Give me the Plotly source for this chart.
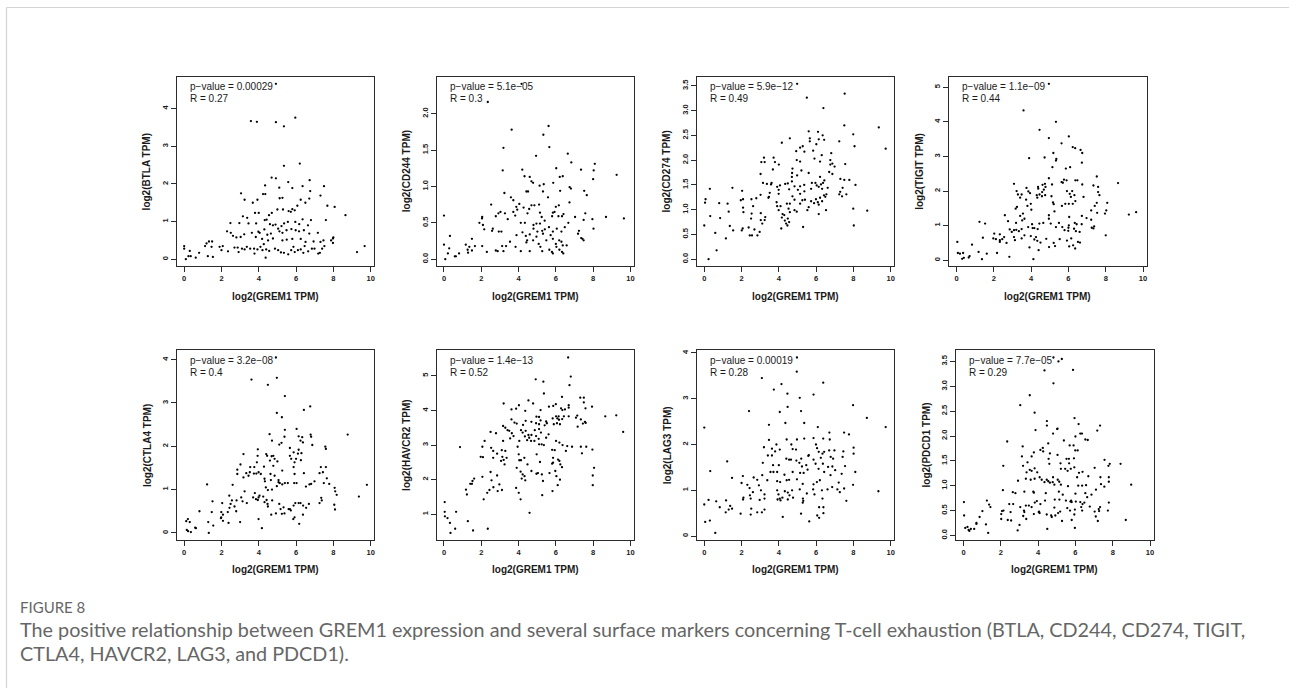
import plotly.graph_objects as go

W, H = 1290, 688

# ---------------- data ----------------
genes = ["BTLA", "CD244", "CD274", "TIGIT", "CTLA4", "HAVCR2", "LAG3", "PDCD1"]
p_values = ["0.00029", "5.1e\u221205", "5.9e\u221212", "1.1e\u221209",
            "3.2e\u221208", "1.4e\u221213", "0.00019", "7.7e\u221205"]
r_values = ["0.27", "0.3", "0.49", "0.44", "0.4", "0.52", "0.28", "0.29"]
x_ticks = [0, 2, 4, 6, 8, 10]
btla_yticks = ["0", "1", "2", "3", "4"]
cd244_yticks = ["0.0", "0.5", "1.0", "1.5", "2.0"]
cd274_yticks = ["0.0", "0.5", "1.0", "1.5", "2.0", "2.5", "3.0", "3.5"]
tigit_yticks = ["0", "1", "2", "3", "4", "5"]
ctla4_yticks = ["0", "1", "2", "3", "4"]
havcr2_yticks = ["1", "2", "3", "4", "5"]
lag3_yticks = ["0", "1", "2", "3", "4"]
pdcd1_yticks = ["0.0", "0.5", "1.0", "1.5", "2.0", "2.5", "3.0", "3.5"]

btla_points = [(4.92,4.66),(3.58,3.67),(3.9,3.65),(4.92,3.64),(5.96,3.76),(5.35,3.53),(5.35,2.48),(6.2,2.54),
(4.69,2.17),(4.92,2.15),(5.58,2.05),(6.73,2.1),(7.5,1.94),(4.34,1.96),(5.1,1.9),(6.35,1.94),(5.8,1.89),(3.05,1.75),
(4.23,1.73),(4.35,1.73),(6.76,1.81),(7.31,1.69),(3.24,1.58),(3.93,1.58),(3.68,1.5),(5.12,1.62),(5.27,1.63),(6.25,1.58),
(6.5,1.5),(6.71,1.61),(7.68,1.42),(8.07,1.39),(7.6,1.04),(8.65,1.17),(6.07,1.42),(5.93,1.3),(5.8,1.33),(5.72,1.26),
(5.6,1.28),(5.3,1.32),(5.0,1.32),(4.7,1.23),(4.55,1.17),(3.8,1.23),(4.0,1.23),(3.15,1.14),(3.38,1.1),(2.96,0.96),
(3.45,0.95),(3.86,0.95),(4.32,1.04),(4.42,1.05),(4.6,0.93),(4.76,0.9),(4.9,0.92),(5.04,0.81),(5.22,0.88),(5.36,0.95),
(5.56,0.99),(5.96,0.99),(6.17,0.93),(6.35,1.06),(6.64,0.9),(6.8,1.04),(2.48,0.96),(2.3,0.74),(2.5,0.7),(2.62,0.62),
(2.8,0.58),(3.03,0.59),(3.22,0.66),(3.63,0.7),(3.98,0.73),(4.05,0.7),(4.3,0.79),(4.46,0.65),(4.65,0.68),(5.11,0.74),
(5.27,0.7),(5.49,0.77),(5.75,0.8),(5.98,0.77),(6.16,0.74),(6.42,0.77),(6.71,0.68),(7.17,0.7),(3.84,0.59),(4.18,0.54),
(4.5,0.5),(4.76,0.55),(5.27,0.5),(5.5,0.52),(5.8,0.54),(6.25,0.54),(6.51,0.46),(6.94,0.47),(7.31,0.46),(7.47,0.5),
(7.88,0.5),(7.98,0.55),(7.98,0.43),(8.0,0.58),(1.47,0.33),(1.33,0.47),(1.5,0.47),(1.2,0.42),(1.12,0.35),(1.9,0.33),
(2.0,0.24),(2.07,0.35),(2.35,0.21),(2.7,0.31),(2.87,0.31),(2.92,0.19),(3.1,0.28),(3.24,0.26),(3.36,0.33),(3.54,0.28),
(3.75,0.28),(3.93,0.26),(3.77,0.15),(4.09,0.33),(4.27,0.4),(4.2,0.24),(4.4,0.26),(4.56,0.22),(4.37,0.04),(4.87,0.28),
(5.04,0.24),(5.19,0.18),(5.35,0.17),(5.58,0.13),(5.74,0.24),(5.86,0.33),(5.93,0.19),(6.1,0.24),(6.25,0.26),(6.39,0.17),
(6.46,0.35),(6.65,0.21),(6.85,0.28),(6.99,0.28),(7.19,0.15),(7.28,0.17),(7.4,0.28),(7.52,0.35),(9.27,0.19),(9.68,0.35),
(0.0,0.35),(0.0,0.28),(0.09,0.0),(0.3,0.22),(0.23,0.08),(0.35,0.08),(0.62,0.04),(0.8,0.17),(1.27,0.08),(1.54,0.06)]

cd244_points = [(2.35,2.16),(4.16,2.41),(3.63,1.78),(5.61,1.83),(5.33,1.71),(5.65,1.54),(3.19,1.53),(4.94,1.42),
(6.64,1.45),(6.83,1.33),(8.09,1.31),(7.35,1.23),(4.2,1.23),(3.15,1.22),(6.02,1.25),(8.03,1.22),(9.26,1.16),(4.32,1.14),
(4.6,1.13),(6.21,1.13),(6.37,1.14),(8.0,1.1),(4.69,1.07),(4.78,1.05),(5.13,1.01),(5.35,1.03),(5.86,1.05),(6.74,0.99),
(6.81,0.97),(4.42,0.93),(4.51,0.93),(3.24,0.91),(5.31,0.93),(6.23,0.94),(7.52,0.94),(7.66,0.88),(5.58,0.85),(3.59,0.85),
(3.72,0.81),(2.53,0.75),(4.04,0.76),(3.88,0.72),(3.93,0.68),(4.27,0.71),(4.57,0.69),(4.69,0.74),(4.85,0.74),(5.1,0.75),
(6.0,0.72),(6.16,0.74),(6.73,0.78),(3.03,0.65),(3.27,0.63),(3.42,0.55),(2.92,0.63),(2.78,0.59),(2.04,0.56),(2.05,0.58),
(3.72,0.65),(3.82,0.6),(4.48,0.63),(5.15,0.64),(5.24,0.58),(5.4,0.53),(5.8,0.59),(5.84,0.64),(5.93,0.65),(6.14,0.59),
(6.33,0.59),(6.41,0.62),(7.03,0.58),(7.49,0.54),(7.58,0.63),(7.96,0.55),(8.69,0.58),(9.65,0.56),(1.9,0.5),(2.09,0.47),
(2.16,0.41),(2.62,0.42),(2.58,0.39),(2.94,0.38),(3.08,0.38),(4.12,0.5),(4.34,0.5),(4.8,0.47),(4.96,0.49),(5.15,0.49),
(4.8,0.42),(5.01,0.38),(5.27,0.39),(5.41,0.41),(5.63,0.44),(5.84,0.38),(6.05,0.42),(6.3,0.38),(6.48,0.44),(6.67,0.5),
(7.19,0.35),(7.24,0.39),(7.43,0.28),(7.49,0.26),(7.36,0.29),(8.02,0.42),(3.89,0.33),(4.21,0.37),(4.39,0.32),(4.6,0.34),
(4.78,0.26),(4.46,0.26),(4.42,0.23),(4.96,0.31),(5.31,0.35),(5.49,0.26),(5.08,0.21),(5.17,0.17),(5.72,0.33),(5.84,0.28),
(6.0,0.21),(6.18,0.26),(6.3,0.24),(6.37,0.19),(6.58,0.19),(6.33,0.1),(6.4,0.08),(5.84,0.08),(5.79,0.1),(6.03,0.17),
(6.19,0.13),(5.65,0.13),(5.27,0.11),(4.6,0.11),(4.12,0.11),(3.84,0.17),(3.54,0.24),(3.33,0.18),(3.12,0.18),(3.19,0.11),
(2.88,0.11),(2.78,0.12),(2.3,0.1),(2.05,0.18),(1.66,0.18),(1.5,0.12),(1.29,0.09),(1.27,0.13),(1.17,0.2),(1.5,0.28),
(1.36,0.17),(0.81,0.08),(0.64,0.04),(0.58,0.04),(0.32,0.32),(0.28,0.15),(0.21,0.08),(0.07,0.0),(0.0,0.2),(0.0,0.6)]

cd274_points = [(4.98,3.54),(5.5,3.26),(7.53,3.34),(6.39,3.05),(7.51,2.7),(9.36,2.66),(5.6,2.58),(6.1,2.57),(6.35,2.5),
(7.99,2.52),(5.66,2.44),(4.59,2.44),(6.14,2.42),(6.43,2.41),(4.16,2.35),(5.66,2.38),(7.24,2.38),(8.06,2.28),(5.28,2.28),
(5.14,2.25),(6.01,2.32),(9.73,2.23),(5.84,2.19),(4.93,2.18),(5.37,2.17),(6.3,2.1),(6.81,2.14),(3.2,2.05),(3.72,2.05),
(3.06,1.96),(3.24,1.96),(3.79,1.96),(4.96,2.0),(5.14,1.97),(4.0,1.91),(5.91,2.03),(6.21,1.97),(6.76,2.0),(6.87,1.93),
(6.99,1.87),(6.76,1.91),(7.56,1.92),(3.68,1.81),(4.73,1.83),(4.71,1.74),(5.21,1.79),(5.6,1.74),(6.7,1.76),(6.87,1.72),
(6.21,1.66),(4.7,1.66),(4.98,1.69),(3.02,1.72),(3.15,1.54),(3.36,1.52),(3.58,1.51),(3.61,1.54),(3.91,1.46),(4.06,1.49),
(4.34,1.52),(4.48,1.53),(4.7,1.57),(4.84,1.47),(5.14,1.47),(5.36,1.5),(5.77,1.54),(5.96,1.54),(6.03,1.49),(6.26,1.51),
(6.37,1.54),(6.44,1.59),(6.14,1.46),(6.32,1.42),(6.62,1.44),(7.3,1.62),(7.51,1.6),(7.78,1.6),(7.42,1.44),(8.11,1.5),
(5.73,1.42),(5.37,1.37),(5.14,1.32),(5.02,1.4),(4.55,1.41),(3.99,1.4),(3.99,1.32),(3.51,1.34),(3.47,1.26),(3.44,1.24),
(3.02,1.3),(2.79,1.23),(2.53,1.21),(1.96,1.19),(2.08,1.21),(2.03,1.38),(1.51,1.44),(0.8,1.13),(1.25,1.12),(0.3,1.42),
(0.07,1.21),(0.04,1.14),(0.0,0.68),(0.32,0.87),(0.85,0.83),(0.59,0.53),(0.66,0.18),(0.23,0.0),(1.16,0.42),(1.37,0.67),
(1.55,0.58),(1.31,0.96),(2.08,1.04),(2.1,0.95),(2.01,0.58),(2.06,0.62),(2.51,0.82),(2.54,0.92),(2.62,1.07),(2.38,0.64),
(2.44,0.48),(2.56,0.48),(2.69,0.6),(2.85,0.48),(2.97,0.55),(3.03,0.79),(3.11,0.72),(3.24,0.79),(3.27,0.85),(3.03,0.93),
(3.88,1.15),(3.91,1.07),(3.99,0.99),(4.09,1.07),(4.16,0.84),(4.13,0.62),(4.2,0.91),(4.29,0.89),(4.32,0.78),(4.39,0.72),
(4.46,0.68),(4.48,0.82),(4.55,0.75),(4.59,0.95),(4.59,1.12),(4.43,1.12),(4.52,1.02),(4.73,1.27),(4.84,1.2),(4.84,0.99),
(4.96,0.96),(5.14,1.12),(5.26,1.19),(5.3,0.65),(5.4,1.2),(5.53,0.99),(5.6,1.05),(5.73,1.17),(5.89,1.13),(5.99,1.21),
(6.09,1.15),(6.14,1.1),(6.14,0.91),(6.21,1.24),(6.32,1.17),(6.42,1.29),(6.49,1.26),(6.55,1.31),(6.53,0.99),(7.24,1.31),
(7.29,1.36),(7.39,1.27),(7.62,1.31),(7.99,1.02),(8.02,0.68),(8.74,0.98)]

tigit_points = [(4.95,5.1),(3.59,4.33),(5.33,4.0),(4.45,3.77),(6.02,3.58),(4.95,3.53),(5.63,3.38),(6.23,3.27),
(6.36,3.24),(6.65,3.19),(6.74,3.1),(5.19,3.1),(5.35,2.93),(5.33,2.88),(3.89,2.95),(4.72,2.97),(6.72,2.82),(5.86,2.65),
(6.09,2.69),(5.14,2.69),(3.08,2.21),(3.75,2.09),(4.37,2.12),(4.38,2.07),(4.61,2.18),(4.74,2.21),(4.77,2.12),(4.95,2.37),
(5.12,2.19),(5.63,2.26),(5.76,2.33),(5.7,2.24),(5.9,2.31),(6.37,2.31),(6.48,2.31),(6.74,2.19),(7.52,2.42),(7.34,2.16),
(7.59,2.12),(8.66,2.23),(3.22,2.0),(3.29,1.9),(3.85,1.99),(3.94,1.94),(4.3,1.88),(4.45,1.9),(4.59,1.97),(4.68,2.04),
(4.33,1.81),(4.58,1.85),(4.75,1.88),(5.09,1.85),(5.92,2.0),(6.07,1.92),(6.2,2.0),(6.13,1.83),(6.32,1.88),(6.81,1.83),
(7.66,1.88),(7.59,1.97),(3.41,1.81),(3.49,1.9),(3.73,1.75),(3.8,1.57),(3.98,1.63),(5.17,1.67),(5.21,1.62),(5.65,1.57),
(5.83,1.63),(6.02,1.63),(6.23,1.63),(6.37,1.71),(7.52,1.66),(7.41,1.57),(8.08,1.66),(3.17,1.49),(3.24,1.54),(3.56,1.35),
(3.64,1.2),(4.01,1.46),(5.25,1.41),(8.03,1.44),(7.96,1.35),(7.54,1.37),(7.22,1.44),(3.41,1.28),(3.52,1.15),(4.95,1.3),
(4.95,1.2),(6.04,1.25),(6.72,1.28),(6.97,1.22),(7.22,1.17),(2.59,1.3),(2.76,1.13),(1.23,1.11),(1.53,1.06),(3.19,1.08),
(4.05,1.04),(4.44,1.06),(4.65,1.08),(5.05,1.06),(5.49,1.08),(6.02,1.01),(6.34,1.08),(6.44,1.04),(6.71,1.04),(7.38,0.98),
(7.25,0.94),(7.34,0.92),(5.33,0.96),(4.08,0.93),(4.17,0.93),(4.35,0.9),(3.84,0.96),(3.49,0.9),(3.2,0.88),(3.08,0.87),
(2.96,0.82),(3.34,0.84),(5.67,0.96),(6.0,0.94),(5.79,0.87),(5.99,0.85),(6.3,0.91),(6.4,0.84),(6.6,0.82),(2.85,0.89),
(2.32,0.75),(2.02,0.77),(1.97,0.63),(2.11,0.61),(2.32,0.58),(2.45,0.61),(2.55,0.67),(2.68,0.5),(3.08,0.67),(3.13,0.58),
(3.49,0.63),(3.64,0.72),(3.98,0.7),(4.17,0.6),(4.26,0.67),(4.33,0.56),(4.5,0.51),(4.81,0.62),(4.96,0.38),(5.21,0.5),
(5.28,0.41),(5.53,0.61),(5.92,0.57),(6.15,0.63),(6.25,0.43),(6.51,0.53),(6.36,0.34),(6.04,0.4),(6.62,0.51),(8.0,0.72),
(9.24,1.32),(9.63,1.39),(4.12,0.03),(3.91,0.37),(4.4,0.29),(2.83,0.1),(2.17,0.21),(1.18,0.24),(1.36,0.03),(1.41,0.65),
(0.04,0.53),(0.07,0.21),(0.18,0.19),(0.3,0.04),(0.39,0.07),(0.35,0.21),(0.65,0.08),(0.7,0.12),(0.83,0.45),(1.62,0.19),
(2.32,0.53)]

ctla4_points = [(4.92,4.05),(4.97,3.58),(3.61,3.54),(4.49,3.42),(5.4,3.16),(6.76,2.92),(6.42,2.84),(4.97,2.77),
(5.24,2.67),(4.58,2.28),(6.03,2.4),(5.4,2.38),(8.77,2.27),(6.78,2.27),(6.81,2.22),(6.14,2.23),(6.33,2.21),(6.24,2.13),
(5.38,2.22),(4.71,2.13),(6.87,2.03),(6.37,2.09),(5.1,2.04),(5.22,2.08),(3.95,1.93),(7.57,1.99),(7.6,1.94),(5.67,1.96),
(6.14,1.92),(6.1,1.83),(6.29,1.84),(5.87,1.86),(4.4,1.82),(4.45,1.78),(4.69,1.77),(4.85,1.71),(4.78,1.78),(3.18,1.82),
(3.94,1.78),(4.6,1.67),(5.0,1.65),(6.0,1.71),(6.26,1.68),(5.92,1.63),(5.74,1.71),(5.67,1.78),(3.9,1.63),(3.02,1.58),
(3.54,1.52),(3.52,1.4),(3.33,1.38),(3.76,1.52),(4.28,1.53),(4.78,1.55),(5.26,1.44),(5.87,1.52),(7.33,1.52),(7.6,1.52),
(7.44,1.4),(7.26,1.38),(2.85,1.46),(2.85,1.36),(3.45,1.32),(3.74,1.37),(3.87,1.37),(3.99,1.4),(4.11,1.36),(4.63,1.36),
(4.85,1.32),(5.92,1.36),(6.42,1.38),(7.65,1.26),(3.18,1.28),(4.31,1.25),(4.33,1.19),(4.65,1.22),(5.06,1.22),(5.13,1.15),
(5.26,1.12),(5.4,1.15),(5.56,1.15),(5.9,1.15),(6.03,1.15),(6.53,1.07),(6.72,1.12),(6.81,1.13),(6.99,1.19),(7.49,1.15),
(7.78,1.13),(8.07,1.04),(8.1,0.96),(8.18,0.88),(9.8,1.11),(9.37,0.84),(1.23,1.12),(2.6,1.11),(3.24,0.96),(4.97,1.08),
(5.06,1.17),(4.71,1.0),(4.49,0.99),(4.38,1.05),(3.79,0.92),(4.04,0.86),(4.24,0.84),(3.99,0.82),(3.95,0.76),(3.7,0.82),
(3.85,0.78),(3.06,0.82),(3.13,0.73),(2.04,0.69),(1.52,0.73),(2.42,0.86),(2.56,0.75),(2.49,0.67),(2.81,0.75),(2.7,0.61),
(3.36,0.69),(4.42,0.76),(4.31,0.71),(4.47,0.67),(4.49,0.61),(4.72,0.75),(5.1,0.67),(5.17,0.55),(5.33,0.59),(5.67,0.55),
(5.87,0.63),(5.96,0.69),(6.14,0.69),(6.24,0.69),(6.38,0.63),(6.54,0.58),(6.69,0.67),(7.38,0.75),(7.35,0.81),(7.26,0.69),
(8.05,0.65),(8.09,0.54),(2.34,0.48),(2.43,0.58),(1.99,0.48),(2.08,0.42),(1.99,0.36),(2.08,0.28),(1.97,0.34),(2.38,0.23),
(3.0,0.25),(2.79,0.5),(1.48,0.48),(1.56,0.17),(1.29,0.25),(0.82,0.5),(0.63,0.11),(0.59,0.12),(0.11,0.27),(0.2,0.32),
(0.3,0.25),(0.14,0.07),(0.21,0.04),(0.36,0.02),(1.32,0.0),(3.99,0.32),(4.17,0.11),(4.67,0.42),(4.92,0.45),(5.24,0.44),
(5.38,0.45),(5.72,0.52),(5.85,0.32),(5.92,0.36),(6.17,0.21),(6.37,0.42),(5.6,0.55)]

havcr2_points = [(6.66,5.53),(6.8,4.98),(4.92,4.9),(5.33,4.83),(6.73,4.73),(5.36,4.49),(6.33,4.39),(7.31,4.37),
(7.5,4.37),(4.53,4.29),(4.78,4.2),(3.2,4.2),(4.02,4.15),(6.0,4.18),(6.69,4.15),(7.5,4.23),(7.94,4.11),(5.63,4.11),
(5.86,4.13),(6.28,4.06),(6.35,4.01),(6.49,4.03),(6.69,4.08),(3.87,4.05),(3.62,4.03),(5.18,4.01),(4.36,3.99),(7.59,4.06),
(6.01,3.83),(6.15,3.83),(6.43,3.83),(6.69,3.83),(7.08,3.79),(8.65,3.83),(9.24,3.86),(4.96,3.82),(5.1,3.81),(5.18,3.71),
(5.48,3.68),(5.83,3.77),(6.08,3.77),(6.17,3.73),(6.34,3.75),(7.15,3.85),(7.34,3.74),(7.45,3.62),(7.56,3.67),(7.6,3.64),
(3.62,3.74),(3.78,3.65),(3.9,3.62),(4.24,3.58),(4.38,3.7),(4.69,3.67),(4.94,3.63),(5.1,3.6),(5.4,3.57),(5.52,3.63),
(5.89,3.6),(6.06,3.63),(6.22,3.6),(7.17,3.53),(3.17,3.55),(3.29,3.5),(3.41,3.43),(3.5,3.41),(3.64,3.34),(3.73,3.26),
(4.13,3.43),(4.22,3.36),(4.38,3.41),(4.53,3.29),(4.69,3.29),(4.87,3.43),(5.1,3.46),(5.2,3.36),(4.94,3.26),(4.57,3.21),
(4.34,3.25),(4.46,3.14),(4.67,3.12),(4.85,3.12),(5.08,3.18),(5.24,3.02),(5.1,3.02),(5.36,3.0),(5.48,3.21),(5.61,3.31),
(6.01,3.12),(6.19,3.07),(6.36,3.0),(6.61,2.97),(6.87,2.95),(7.34,2.95),(7.63,2.95),(7.96,2.87),(9.61,3.38),(2.5,3.38),
(2.79,3.34),(2.18,3.12),(3.17,3.12),(3.55,3.19),(4.04,3.12),(3.95,2.95),(2.06,2.95),(0.86,2.94),(2.53,2.92),(2.64,2.83),
(3.1,2.85),(3.29,2.83),(2.85,2.75),(3.13,2.66),(3.2,2.57),(3.36,2.63),(3.25,2.44),(3.06,2.54),(4.01,2.73),(4.04,2.56),
(4.13,2.56),(4.31,2.63),(4.97,2.73),(4.48,2.44),(5.15,2.51),(5.8,2.86),(5.94,2.85),(5.85,2.63),(5.85,2.49),(5.8,2.46),
(6.12,2.58),(6.19,2.54),(6.24,2.44),(6.33,2.36),(6.54,2.83),(7.4,2.76),(8.05,2.34),(1.97,2.66),(2.09,2.65),(2.64,2.63),
(2.06,2.08),(2.5,2.22),(2.55,1.98),(2.85,2.12),(2.97,1.86),(3.9,2.34),(4.11,2.23),(4.22,2.15),(4.32,2.1),(4.17,2.03),
(4.36,1.98),(4.69,2.25),(4.96,2.17),(5.04,2.19),(5.25,2.15),(5.31,1.96),(5.66,2.19),(5.97,2.25),(6.03,2.1),(6.22,2.0),
(7.98,2.12),(7.98,1.84),(6.1,1.84),(1.62,2.03),(1.53,1.96),(1.5,1.88),(1.18,1.71),(1.23,1.57),(1.41,1.88),(2.13,1.43),
(2.32,1.62),(2.44,1.7),(2.65,1.78),(2.88,1.67),(3.11,1.7),(3.87,1.76),(4.01,1.62),(4.11,1.43),(5.27,1.55),(5.82,1.67),
(0.04,1.35),(0.04,1.07),(0.05,0.94),(0.19,0.89),(0.32,0.75),(0.35,0.46),(0.6,0.58),(0.65,1.07),(1.28,0.8),(1.56,0.53),
(2.35,0.58),(4.59,1.04)]

lag3_points = [(4.97,3.9),(4.96,3.59),(3.09,3.45),(6.38,3.35),(4.14,3.32),(3.73,3.2),(7.98,2.86),(5.86,3.09),
(5.12,3.02),(4.46,3.11),(4.47,2.82),(4.05,2.71),(5.19,2.73),(2.4,2.73),(8.72,2.58),(0.0,2.37),(3.47,2.43),(4.35,2.47),
(5.36,2.47),(9.73,2.38),(6.09,2.38),(7.5,2.26),(7.76,2.22),(6.71,2.26),(3.47,2.1),(4.42,2.11),(4.97,2.11),(5.36,2.13),
(5.86,2.14),(6.38,2.13),(6.73,2.11),(3.87,2.0),(3.2,1.94),(4.05,1.89),(4.67,2.0),(4.74,1.9),(4.92,1.89),(5.99,2.0),
(6.05,1.92),(6.14,1.84),(6.43,1.84),(6.7,1.87),(6.98,1.87),(7.46,1.85),(8.01,1.93),(8.01,1.8),(3.63,1.91),(3.63,1.76),
(3.8,1.85),(3.41,1.76),(4.4,1.69),(4.55,1.67),(4.65,1.67),(4.94,1.65),(5.1,1.6),(5.2,1.69),(5.58,1.75),(5.61,1.77),
(5.86,1.67),(6.25,1.71),(6.34,1.8),(6.78,1.73),(6.91,1.69),(7.42,1.73),(3.14,1.6),(3.69,1.55),(4.0,1.55),(5.24,1.52),
(5.47,1.55),(5.97,1.58),(6.36,1.58),(6.64,1.51),(6.87,1.52),(7.55,1.53),(3.55,1.4),(3.71,1.4),(3.91,1.4),(4.3,1.34),
(4.74,1.4),(5.14,1.38),(5.33,1.38),(5.54,1.45),(6.13,1.47),(6.43,1.4),(6.77,1.33),(7.02,1.44),(7.37,1.36),(8.1,1.4),
(3.11,1.33),(1.49,1.27),(1.23,1.63),(0.32,1.42),(2.07,1.31),(2.65,1.28),(2.84,1.23),(3.38,1.22),(3.91,1.2),(4.07,1.18),
(4.42,1.22),(4.55,1.23),(4.97,1.24),(5.28,1.14),(5.86,1.13),(6.04,1.18),(6.2,1.22),(7.21,1.17),(7.98,1.12),(2.0,1.16),
(2.31,1.12),(2.43,1.05),(2.93,1.11),(2.61,0.96),(3.04,1.0),(3.23,0.91),(3.23,0.82),(2.45,0.89),(2.1,0.84),(2.08,0.8),
(2.49,0.82),(2.97,0.79),(3.91,1.0),(3.98,0.91),(4.05,0.82),(3.93,0.8),(4.09,0.78),(4.19,0.84),(4.32,0.98),(4.48,0.95),
(4.57,0.89),(4.48,0.8),(4.71,1.0),(4.76,0.84),(5.12,1.02),(5.29,0.82),(5.31,0.77),(5.5,0.93),(5.84,1.02),(5.91,0.91),
(6.31,1.0),(6.34,0.82),(6.61,1.02),(6.86,1.07),(7.14,1.02),(7.27,0.96),(7.5,1.04),(7.62,0.77),(9.34,0.98),(5.28,0.73),
(1.17,0.78),(1.39,0.66),(1.49,0.6),(1.31,0.58),(1.15,0.52),(0.83,0.63),(0.64,0.76),(0.23,0.79),(0.0,0.69),(0.05,0.31),
(0.3,0.34),(0.59,0.07),(1.95,0.49),(2.49,0.47),(2.52,0.6),(2.84,0.52),(3.09,0.52),(3.23,0.58),(4.21,0.42),(5.19,0.49),
(5.63,0.32),(6.06,0.45),(6.16,0.4),(6.16,0.63),(6.39,0.63),(6.39,0.5)]

pdcd1_points = [(4.82,3.58),(5.09,3.5),(5.27,3.55),(4.34,3.32),(5.87,3.33),(4.82,3.06),(3.55,2.82),(3.04,2.62),
(3.81,2.47),(2.34,1.89),(3.86,2.12),(5.95,2.36),(6.17,2.24),(7.32,2.21),(7.17,2.11),(5.04,2.15),(5.02,2.14),(4.47,2.21),
(4.8,2.05),(4.47,2.3),(6.26,2.05),(6.35,2.05),(6.0,1.99),(6.53,1.93),(6.66,1.92),(4.54,1.85),(5.38,1.91),(5.69,1.81),
(5.9,1.81),(5.99,1.71),(6.12,1.71),(3.17,1.79),(4.63,1.65),(4.25,1.76),(4.27,1.69),(4.12,1.72),(3.77,1.67),(3.65,1.59),
(3.13,1.59),(4.56,1.54),(4.6,1.44),(5.04,1.62),(5.2,1.45),(5.52,1.54),(5.65,1.54),(5.66,1.45),(5.92,1.55),(5.22,1.34),
(5.45,1.34),(5.58,1.3),(5.75,1.34),(5.94,1.37),(6.19,1.26),(6.38,1.28),(6.09,1.17),(6.69,1.19),(7.03,1.36),(7.56,1.52),
(7.77,1.4),(7.84,1.44),(8.42,1.44),(7.34,1.17),(7.79,1.17),(7.79,1.08),(3.19,1.4),(3.43,1.47),(3.55,1.32),(3.65,1.3),
(3.81,1.35),(2.13,1.4),(2.92,1.1),(3.38,1.27),(3.34,1.14),(3.6,1.12),(3.81,1.14),(3.95,1.27),(4.08,1.17),(4.19,1.12),
(4.34,1.07),(4.46,1.12),(4.54,1.09),(4.8,1.17),(5.05,1.12),(4.78,1.07),(5.13,1.08),(4.63,1.06),(4.87,1.02),(5.22,1.02),
(5.6,0.99),(6.15,1.0),(6.36,1.0),(6.57,1.01),(7.1,0.92),(7.37,1.03),(7.55,0.98),(2.11,0.91),(2.64,0.87),(2.78,0.85),
(3.26,0.88),(3.74,0.88),(3.77,0.86),(4.41,0.85),(5.11,0.88),(5.32,0.82),(6.0,0.84),(6.53,0.85),(6.86,0.82),(5.77,0.7),
(6.63,0.77),(7.79,0.66),(2.45,0.63),(2.66,0.63),(3.34,0.6),(3.5,0.6),(3.65,0.57),(3.93,0.69),(3.82,0.66),(4.12,0.63),
(4.37,0.7),(4.87,0.56),(4.89,0.72),(5.14,0.72),(5.49,0.7),(5.73,0.68),(5.8,0.67),(6.02,0.68),(6.26,0.67),(6.38,0.63),
(6.48,0.66),(6.77,0.58),(7.32,0.57),(7.27,0.49),(7.25,0.53),(7.03,0.48),(7.74,0.5),(5.56,0.55),(5.71,0.5),(5.97,0.52),
(6.31,0.57),(6.36,0.5),(5.07,0.45),(5.18,0.48),(4.92,0.4),(4.73,0.37),(4.46,0.42),(4.05,0.48),(4.03,0.47),(4.08,0.45),
(3.77,0.43),(3.24,0.5),(3.26,0.47),(3.2,0.39),(3.04,0.57),(2.52,0.47),(2.14,0.5),(2.06,0.49),(2.02,0.43),(2.02,0.33),
(2.37,0.31),(2.55,0.3),(3.0,0.21),(2.9,0.1),(3.36,0.33),(4.7,0.4),(4.49,0.13),(5.28,0.29),(5.8,0.31),(5.97,0.15),
(5.94,0.42),(7.09,0.38),(7.2,0.29),(8.7,0.31),(8.99,1.02),(1.25,0.7),(1.37,0.62),(1.44,0.57),(1.01,0.49),(0.86,0.37),
(0.69,0.23),(1.2,0.22),(1.32,0.05),(0.02,0.67),(0.03,0.4),(0.09,0.15),(0.21,0.17),(0.27,0.11),(0.31,0.09),(0.39,0.13),
(0.57,0.13),(0.69,0.25)]

caption_title = "FIGURE 8"
caption_lines = [
    "The positive relationship between GREM1 expression and several surface markers concerning T-cell exhaustion (BTLA, CD244, CD274, TIGIT,",
    "CTLA4, HAVCR2, LAG3, and PDCD1).",
]

# ---------------- layout ----------------
panels = [btla_points, cd244_points, cd274_points, tigit_points,
          ctla4_points, havcr2_points, lag3_points, pdcd1_points]
yticks = [btla_yticks, cd244_yticks, cd274_yticks, tigit_yticks,
          ctla4_yticks, havcr2_yticks, lag3_yticks, pdcd1_yticks]

box_left = [177, 437, 697.5, 950, 177, 437, 697.5, 957]
box_top = [75, 75, 75, 75, 349.5, 349.5, 349.5, 349.5]
BW, BH = 197.5, 190

TXT = "#1a1a1a"
LINE = "#2b2b2b"
FONT = "Liberation Sans"


def pad_range(vals):
    lo, hi = min(vals), max(vals)
    d = hi - lo
    return [lo - 0.04 * d, hi + 0.04 * d]


all_x = [p[0] for pts in panels for p in pts]
x_range = pad_range(all_x)

fig = go.Figure()
annotations = []
layout_axes = {}

for i, pts in enumerate(panels):
    n = i + 1
    xs = [p[0] for p in pts]
    ys = [p[1] for p in pts]
    xa = "x" if n == 1 else f"x{n}"
    ya = "y" if n == 1 else f"y{n}"
    fig.add_trace(go.Scatter(
        x=xs, y=ys, mode="markers", xaxis=xa, yaxis=ya,
        marker=dict(size=2.3, color="#000000", line=dict(width=0)),
        showlegend=False, hoverinfo="skip"))

    l, t = box_left[i], box_top[i]
    common = dict(showline=True, mirror=True, linecolor=LINE, linewidth=1,
                  ticks="outside", ticklen=5, tickwidth=1, tickcolor=LINE,
                  showgrid=False, zeroline=False,
                  tickfont=dict(family=FONT, size=7.5, color=TXT, weight="bold"))
    layout_axes["xaxis" if n == 1 else f"xaxis{n}"] = dict(
        domain=[l / W, (l + BW) / W], anchor=ya, range=x_range,
        tickvals=x_ticks, ticktext=[str(v) for v in x_ticks], **common)
    layout_axes["yaxis" if n == 1 else f"yaxis{n}"] = dict(
        domain=[1 - (t + BH) / H, 1 - t / H], anchor=xa, range=pad_range(ys),
        tickvals=[float(v) for v in yticks[i]], ticktext=yticks[i],
        tickangle=-90, **common)

    # in-plot statistics
    annotations.append(dict(x=(l + 11) / W, y=1 - (t + 10) / H, xref="paper", yref="paper",
                            text=f"p\u2212value = {p_values[i]}", showarrow=False,
                            xanchor="left", yanchor="middle",
                            font=dict(family=FONT, size=10, color=TXT)))
    annotations.append(dict(x=(l + 11) / W, y=1 - (t + 22) / H, xref="paper", yref="paper",
                            text=f"R = {r_values[i]}", showarrow=False,
                            xanchor="left", yanchor="middle",
                            font=dict(family=FONT, size=10, color=TXT)))
    # axis titles
    annotations.append(dict(x=(l + BW / 2) / W, y=1 - (t + BH + 30) / H, xref="paper", yref="paper",
                            text="log2(GREM1 TPM)", showarrow=False,
                            xanchor="center", yanchor="middle",
                            font=dict(family=FONT, size=10, color=TXT, weight="bold")))
    annotations.append(dict(x=(l - 30) / W, y=1 - (t + BH / 2) / H, xref="paper", yref="paper",
                            text=f"log2({genes[i]} TPM)", showarrow=False, textangle=-90,
                            xanchor="center", yanchor="middle",
                            font=dict(family=FONT, size=10, color=TXT, weight="bold")))

CAP = "#666666"
CAP_X = 18
annotations.append(dict(x=CAP_X / W, y=1 - 606.7 / H, xref="paper", yref="paper",
                        text=caption_title, showarrow=False, xanchor="left", yanchor="middle",
                        font=dict(family="Lato", size=15, color=CAP)))
for k, line in enumerate(caption_lines):
    annotations.append(dict(x=CAP_X / W, y=1 - (629.3 + 24 * k) / H, xref="paper", yref="paper",
                            text=line, showarrow=False, xanchor="left", yanchor="middle",
                            font=dict(family="Lato", size=19.8, color=CAP)))

shapes = [
    dict(type="line", xref="paper", yref="paper", x0=6.5 / W, x1=1, y0=1 - 5.5 / H, y1=1 - 5.5 / H,
         line=dict(color="#d4d4d4", width=1.2)),
    dict(type="line", xref="paper", yref="paper", x0=6.5 / W, x1=6.5 / W, y0=1 - 5.5 / H, y1=0,
         line=dict(color="#d4d4d4", width=1.2)),
]

fig.update_layout(width=W, height=H, margin=dict(l=0, r=0, t=0, b=0),
                  paper_bgcolor="white", plot_bgcolor="white",
                  annotations=annotations, shapes=shapes, **layout_axes)

fig.write_html("out.html", config={"displayModeBar": False},
               post_script="document.body.style.margin='0';document.body.style.overflow='hidden';")
